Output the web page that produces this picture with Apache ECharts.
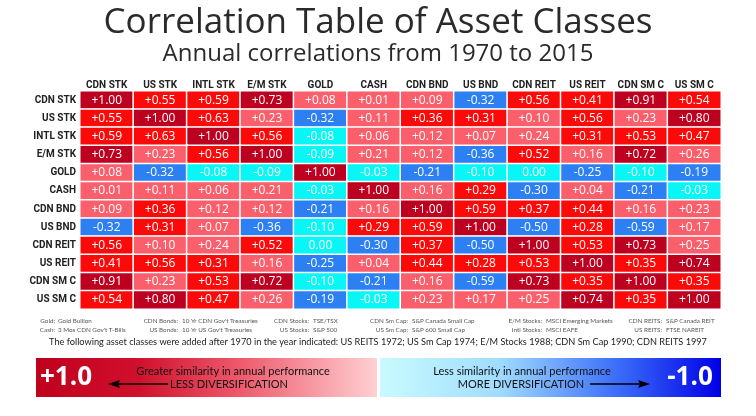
<!DOCTYPE html>
<html>
<head>
<meta charset="utf-8">
<script src="https://cdn.jsdelivr.net/npm/echarts@6/dist/echarts.min.js"></script>
<style>html,body{margin:0;padding:0;background:#fff;}#c{width:756px;height:416px;}</style>
</head>
<body>
<div id="c"></div>
<script>
var categories = ['CDN STK','US STK','INTL STK','E/M STK','GOLD','CASH','CDN BND','US BND','CDN REIT','US REIT','CDN SM C','US SM C'];
var rowCdnStk  = [1.00, 0.55, 0.59, 0.73, 0.08, 0.01, 0.09, -0.32, 0.56, 0.41, 0.91, 0.54];
var rowUsStk   = [0.55, 1.00, 0.63, 0.23, -0.32, 0.11, 0.36, 0.31, 0.10, 0.56, 0.23, 0.80];
var rowIntlStk = [0.59, 0.63, 1.00, 0.56, -0.08, 0.06, 0.12, 0.07, 0.24, 0.31, 0.53, 0.47];
var rowEmStk   = [0.73, 0.23, 0.56, 1.00, -0.09, 0.21, 0.12, -0.36, 0.52, 0.16, 0.72, 0.26];
var rowGold    = [0.08, -0.32, -0.08, -0.09, 1.00, -0.03, -0.21, -0.10, 0.00, -0.25, -0.10, -0.19];
var rowCash    = [0.01, 0.11, 0.06, 0.21, -0.03, 1.00, 0.16, 0.29, -0.30, 0.04, -0.21, -0.03];
var rowCdnBnd  = [0.09, 0.36, 0.12, 0.12, -0.21, 0.16, 1.00, 0.59, 0.37, 0.44, 0.16, 0.23];
var rowUsBnd   = [-0.32, 0.31, 0.07, -0.36, -0.10, 0.29, 0.59, 1.00, -0.50, 0.28, -0.59, 0.17];
var rowCdnReit = [0.56, 0.10, 0.24, 0.52, 0.00, -0.30, 0.37, -0.50, 1.00, 0.53, 0.73, 0.25];
var rowUsReit  = [0.41, 0.56, 0.31, 0.16, -0.25, 0.04, 0.44, 0.28, 0.53, 1.00, 0.35, 0.74];
var rowCdnSmC  = [0.91, 0.23, 0.53, 0.72, -0.10, -0.21, 0.16, -0.59, 0.73, 0.35, 1.00, 0.35];
var rowUsSmC   = [0.54, 0.80, 0.47, 0.26, -0.19, -0.03, 0.23, 0.17, 0.25, 0.74, 0.35, 1.00];
var rows = [rowCdnStk,rowUsStk,rowIntlStk,rowEmStk,rowGold,rowCash,rowCdnBnd,rowUsBnd,rowCdnReit,rowUsReit,rowCdnSmC,rowUsSmC];

var footLabels = [['Gold:','Cash:'],['CDN Bonds:','US Bonds:'],['CDN Stocks:','US Stocks:'],['CDN Sm Cap:','US Sm Cap:'],['E/M Stocks:','Intl Stocks:'],['CDN REITS:','US REITS:']];
var footValues = [['Gold Bullion','3 Mos CDN Gov\'t T-Bills'],['10 Yr CDN Gov\'t Treasuries','10 Yr US Gov\'t Treasuries'],['TSE/TSX','S&P 500'],['S&P Canada Small Cap','S&P 600 Small Cap'],['MSCI Emerging Markets','MSCI EAFE'],['S&P Canada REIT','FTSE NAREIT']];
var addedNote = 'The following asset classes were added after 1970 in the year indicated: US REITS 1972; US Sm Cap 1974; E/M Stocks 1988; CDN Sm Cap 1990; CDN REITS 1997';

var data = [];
rows.forEach(function(r, y){ r.forEach(function(v, x){ data.push([x, y, v]); }); });

var footX = [[55,58],[178,182],[309,313],[408,412],[542,546],[662,666]];
var graphics = [];
footLabels.forEach(function(pair, i){
  for (var k=0;k<2;k++){
    graphics.push({type:'text', x:footX[i][0], y:318+k*9, style:{text:pair[k], textAlign:'right', fill:'#555', font:'6.3px Lato'}});
    graphics.push({type:'text', x:footX[i][1], y:318+k*9, style:{text:footValues[i][k], textAlign:'left', fill:'#555', font:'6.3px Lato'}});
  }
});
graphics.push({type:'text', x:378, y:338, style:{text:addedNote, textAlign:'center', fill:'#222', font:'9.2px Lato'}});
graphics.push({type:'rect', shape:{x:36,y:358,width:341,height:39}, style:{fill:new echarts.graphic.LinearGradient(0,0,1,0,[{offset:0,color:'#bf001c'},{offset:0.3,color:'#d0102c'},{offset:0.6,color:'#ee5a6c'},{offset:1,color:'#ffd0d2'}])}});
graphics.push({type:'rect', shape:{x:380,y:358,width:341,height:39}, style:{fill:new echarts.graphic.LinearGradient(0,0,1,0,[{offset:0,color:'#c8fbff'},{offset:0.35,color:'#a0dcff'},{offset:0.7,color:'#3a6cf8'},{offset:1,color:'#0000e6'}])}});
graphics.push({type:'text', x:66, y:378, style:{text:'+1.0', textAlign:'center', textVerticalAlign:'middle', fill:'#fff', font:'bold 26px "Open Sans"'}});
graphics.push({type:'text', x:690, y:378, style:{text:'-1.0', textAlign:'center', textVerticalAlign:'middle', fill:'#fff', font:'bold 26px "Open Sans"'}});
graphics.push({type:'text', x:233, y:371, style:{text:'Greater similarity in annual performance', textAlign:'center', textVerticalAlign:'middle', fill:'#111', font:'11px Lato'}});
graphics.push({type:'text', x:229, y:384, style:{text:'LESS DIVERSIFICATION', textAlign:'center', textVerticalAlign:'middle', fill:'#111', font:'11px Lato'}});
graphics.push({type:'text', x:522, y:371, style:{text:'Less similarity in annual performance', textAlign:'center', textVerticalAlign:'middle', fill:'#111', font:'11px Lato'}});
graphics.push({type:'text', x:521, y:384, style:{text:'MORE DIVERSIFICATION', textAlign:'center', textVerticalAlign:'middle', fill:'#111', font:'11px Lato'}});
graphics.push({type:'line', shape:{x1:114,y1:384,x2:168,y2:384}, style:{stroke:'#000', lineWidth:1.5}});
graphics.push({type:'polygon', shape:{points:[[108,384],[120,380],[118,384],[120,388]]}, style:{fill:'#000'}});
graphics.push({type:'line', shape:{x1:590,y1:384,x2:644,y2:384}, style:{stroke:'#000', lineWidth:1.5}});
graphics.push({type:'polygon', shape:{points:[[650,384],[638,380],[640,384],[638,388]]}, style:{fill:'#000'}});

function fmt(v){ if (v > 0) return '+' + v.toFixed(2); return v.toFixed(2); }

var chart = echarts.init(document.getElementById('c'), null, {renderer:'canvas'});
chart.setOption({
  backgroundColor:'#fff',
  animation:false,
  title:{
    text:'Correlation Table of Asset Classes',
    subtext:'Annual correlations from 1970 to 2015',
    left:'center', top:1, itemGap:1,
    textStyle:{fontFamily:'Open Sans', fontSize:35, fontWeight:'normal', color:'#2a2a2a'},
    subtextStyle:{fontFamily:'Open Sans', fontSize:24, color:'#2a2a2a'}
  },
  grid:{left:80, right:35, top:91, bottom:107},
  xAxis:{type:'category', data:categories, position:'top',
    axisLine:{show:false}, axisTick:{show:false}, splitLine:{show:false},
    axisLabel:{margin:1, fontFamily:'Roboto', fontWeight:'bold', fontSize:10, color:'#222', interval:0}},
  yAxis:{type:'category', data:categories, inverse:true,
    axisLine:{show:false}, axisTick:{show:false}, splitLine:{show:false},
    axisLabel:{margin:4, fontFamily:'Roboto', fontWeight:'bold', fontSize:10, color:'#222', interval:0}},
  visualMap:{type:'piecewise', show:false, dimension:2, seriesIndex:0,
    pieces:[
      {gte:0.695, color:'#bd0020'},
      {gte:0.265, lt:0.695, color:'#fc0a0a'},
      {gt:0.005, lt:0.265, color:'#fa5f6b'},
      {gt:-0.15, lte:0.005, color:'#08f6f6'},
      {lte:-0.15, color:'#2d80f3'}
    ]},
  series:[{type:'heatmap', data:data,
    itemStyle:{borderColor:'#fff', borderWidth:1.5},
    label:{show:true, color:'#fff', fontFamily:'Open Sans', fontSize:12,
      formatter:function(p){ return fmt(p.value[2]); }},
    emphasis:{disabled:true}
  }],
  graphic:graphics
});
</script>
</body>
</html>
